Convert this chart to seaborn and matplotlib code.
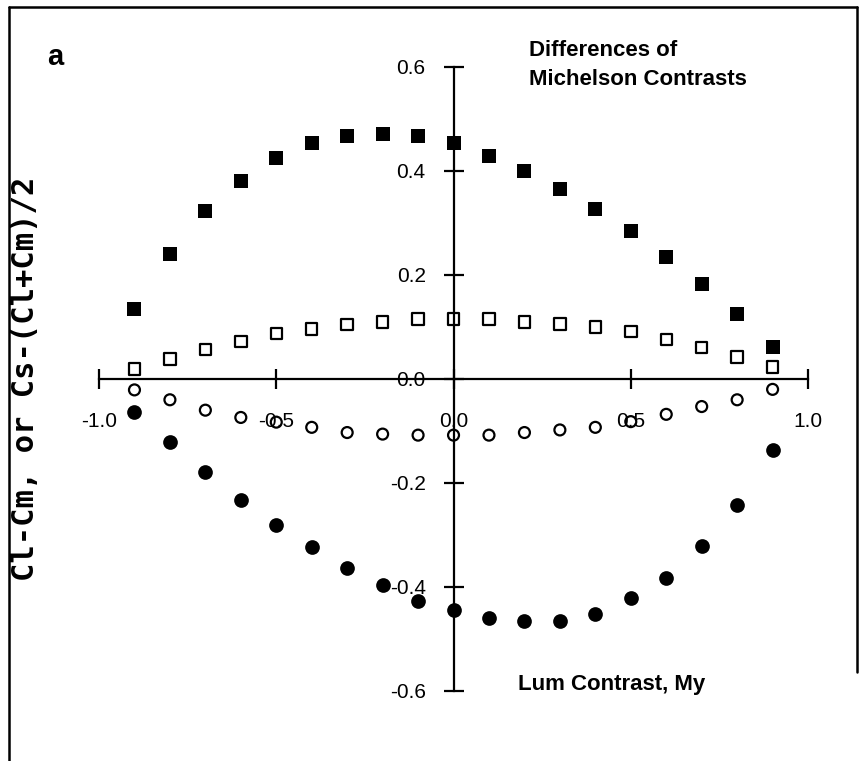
import numpy as np
import matplotlib
matplotlib.use("Agg")
import matplotlib.pyplot as plt
from matplotlib.lines import Line2D
import seaborn as sns

# --------------------------------------------------
# Data
# --------------------------------------------------
lum_contrast = [-0.9, -0.8, -0.7, -0.6, -0.5, -0.4, -0.3, -0.2, -0.1, 0.0,
                0.1, 0.2, 0.3, 0.4, 0.5, 0.6, 0.7, 0.8, 0.9]

filled_squares = [0.134, 0.240, 0.323, 0.381, 0.424, 0.453, 0.468, 0.472, 0.468, 0.453,
                  0.429, 0.400, 0.366, 0.327, 0.284, 0.235, 0.182, 0.124, 0.061]
open_squares = [0.019, 0.038, 0.057, 0.072, 0.087, 0.096, 0.105, 0.110, 0.115, 0.115,
                0.115, 0.110, 0.106, 0.100, 0.091, 0.076, 0.061, 0.042, 0.023]
open_circles = [-0.021, -0.040, -0.060, -0.074, -0.083, -0.093, -0.103, -0.106, -0.108, -0.108,
                -0.108, -0.103, -0.098, -0.093, -0.082, -0.068, -0.053, -0.040, -0.020]
filled_circles = [-0.064, -0.122, -0.179, -0.233, -0.281, -0.324, -0.364, -0.397, -0.426, -0.445,
                  -0.460, -0.465, -0.465, -0.451, -0.422, -0.383, -0.321, -0.243, -0.137]

x_ticks = [-1.0, -0.5, 0.0, 0.5, 1.0]
y_ticks = [-0.6, -0.4, -0.2, 0.0, 0.2, 0.4, 0.6]

# --------------------------------------------------
# Style
# --------------------------------------------------
sns.set_style("white")
plt.rcParams['font.family'] = ['Liberation Sans', 'DejaVu Sans']
plt.rcParams['axes.unicode_minus'] = False
plt.rcParams['text.color'] = "black"
plt.rcParams['axes.labelcolor'] = "black"

fig = plt.figure(figsize=(8.67, 7.61), dpi=100)
ax = fig.add_axes([0.1142, 0.092, 0.8178, 0.820])

# --------------------------------------------------
# Scatter series
# --------------------------------------------------
sns.scatterplot(x=lum_contrast, y=filled_squares, marker="s", s=112,
                color="black", edgecolor="black", linewidth=0, ax=ax, zorder=3)
sns.scatterplot(x=lum_contrast, y=open_squares, marker="s", s=68,
                color="black", facecolor="none", edgecolor="black", linewidth=1.6, ax=ax, zorder=3)
sns.scatterplot(x=lum_contrast, y=open_circles, marker="o", s=62,
                color="black", facecolor="none", edgecolor="black", linewidth=1.6, ax=ax, zorder=3)
sns.scatterplot(x=lum_contrast, y=filled_circles, marker="o", s=112,
                color="black", edgecolor="black", linewidth=0, ax=ax, zorder=3)

# --------------------------------------------------
# Axes crossing at the origin
# --------------------------------------------------
ax.set_xlim(-1.0, 1.0)
ax.set_ylim(-0.6, 0.6)
for side in ["top", "right"]:
    ax.spines[side].set_visible(False)
ax.spines["left"].set_position(("data", 0))
ax.spines["bottom"].set_position(("data", 0))
for side in ["left", "bottom"]:
    ax.spines[side].set_linewidth(1.6)
    ax.spines[side].set_color("black")

ax.set_xticks(x_ticks)
ax.set_xticklabels([f"{v:.1f}" for v in x_ticks])
ax.set_yticks(y_ticks)
ax.set_yticklabels([f"{v:.1f}" for v in y_ticks])
ax.tick_params(axis="x", bottom=True, direction="inout", length=14, width=1.6, pad=16.5,
               labelsize=15, colors="black")
ax.tick_params(axis="y", left=True, direction="inout", length=14, width=1.6, pad=13,
               labelsize=15, colors="black")

ax.set_ylabel("Cl-Cm, or Cs-(Cl+Cm)/2", fontsize=22, fontweight="bold",
              family="DejaVu Sans Mono", color="black")
ax.yaxis.set_label_coords(-0.083, 0.5)

# --------------------------------------------------
# Annotations
# --------------------------------------------------
fig.text(0.054, 0.925, "a", fontsize=21, fontweight="bold", ha="left", va="center")
fig.text(0.610, 0.933, "Differences of", fontsize=16, fontweight="bold",
         ha="left", va="center")
fig.text(0.610, 0.895, "Michelson Contrasts", fontsize=16, fontweight="bold",
         ha="left", va="center")
fig.text(0.597, 0.100, "Lum Contrast, My", fontsize=16, fontweight="bold",
         ha="left", va="center")

# frame around the panel (open at the bottom)
frame_kw = dict(color="black", linewidth=1.8, transform=fig.transFigure)
fig.add_artist(Line2D([0.0105, 0.0105], [0.0, 0.991], **frame_kw))
fig.add_artist(Line2D([0.0105, 0.989], [0.991, 0.991], **frame_kw))
fig.add_artist(Line2D([0.989, 0.989], [0.991, 0.117], **frame_kw))

fig.savefig("out.png", dpi=100)
